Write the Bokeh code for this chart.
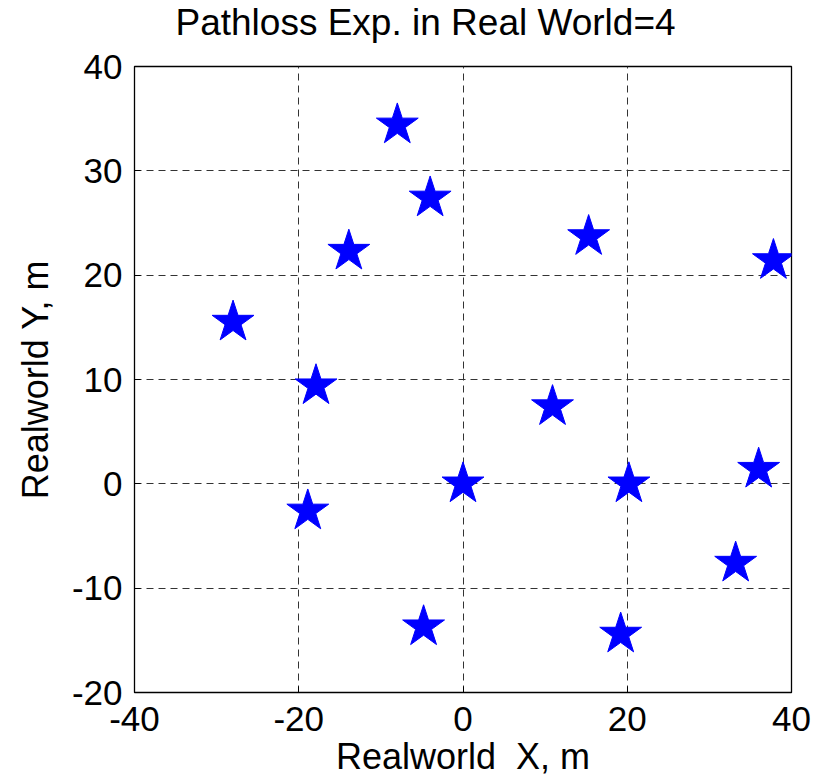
from bokeh.plotting import figure
from bokeh.models import Range1d, FixedTicker, Title
from bokeh.embed import file_html
from bokeh.resources import INLINE

# Node positions in the real-world plane (metres)
node_x = [-8.0, -4.0, -13.9, -28.0, -17.9, -18.9, 0.0, -4.8, 10.9, 15.3, 37.8, 20.2, 36.0, 33.2, 19.2]
node_y = [34.4, 27.4, 22.3, 15.5, 9.4, -2.6, 0.0, -13.7, 7.4, 23.7, 21.4, 0.0, 1.4, -7.6, -14.4]

x_ticks = [-40, -20, 0, 20, 40]
y_ticks = [-20, -10, 0, 10, 20, 30, 40]

title_text = "Pathloss Exp. in Real World=4"
x_label = "Realworld\u00a0 X, m"
y_label = "Realworld Y, m"

FONT = "Liberation Sans"
TICK_FS = "35px"
LABEL_FS = "36px"

p = figure(width=823, height=779, output_backend="svg", toolbar_location=None,
           x_range=Range1d(-40, 40), y_range=Range1d(-20, 40),
           min_border_left=134, min_border_right=32, min_border_top=0, min_border_bottom=87)
p.title.text = ""

# gap between the heading and the frame
p.add_layout(Title(text=" ", text_font_size="1px", standoff=17), "above")
# heading
p.add_layout(Title(text=title_text, align="left", offset=41, standoff=3,
                   vertical_align="top", text_font=FONT, text_font_size="37px",
                   text_font_style="normal", text_color="black"), "above")

p.background_fill_color = "white"
p.border_fill_color = "white"
p.outline_line_color = "black"
p.outline_line_width = 1.3

for ax, ticks in ((p.xaxis, x_ticks), (p.yaxis, y_ticks)):
    ax.ticker = FixedTicker(ticks=ticks)
    # plain hyphen for negative numbers
    ax.major_label_overrides = {t: str(t) for t in ticks}
    ax.major_label_text_font = FONT
    ax.major_label_text_font_size = TICK_FS
    ax.major_label_text_color = "black"
    ax.axis_label_text_font = FONT
    ax.axis_label_text_font_size = LABEL_FS
    ax.axis_label_text_font_style = "normal"
    ax.axis_label_text_color = "black"
    ax.axis_line_color = "black"
    ax.major_tick_in = 6
    ax.major_tick_out = 0
    ax.minor_tick_in = 0
    ax.minor_tick_out = 0
    ax.major_tick_line_color = "black"

p.xaxis.major_label_standoff = 14
p.yaxis.axis_label = y_label
p.yaxis.major_label_standoff = 12
p.yaxis.axis_label_standoff = 13

# x-axis caption beneath the tick labels
p.add_layout(Title(text=x_label, align="center", standoff=1, vertical_align="bottom",
                   text_font=FONT, text_font_size=LABEL_FS, text_font_style="normal",
                   text_color="black"), "below")

for g, ticks in ((p.xgrid, x_ticks), (p.ygrid, y_ticks)):
    g.ticker = FixedTicker(ticks=ticks)
    g.grid_line_color = "#333333"
    g.grid_line_width = 1
    g.grid_line_dash = "7 5"

p.scatter(node_x, node_y, marker="star", size=44,
          fill_color="#0000FF", line_color="#0000FF")

with open("out.html", "w") as f:
    f.write(file_html(p, INLINE))
